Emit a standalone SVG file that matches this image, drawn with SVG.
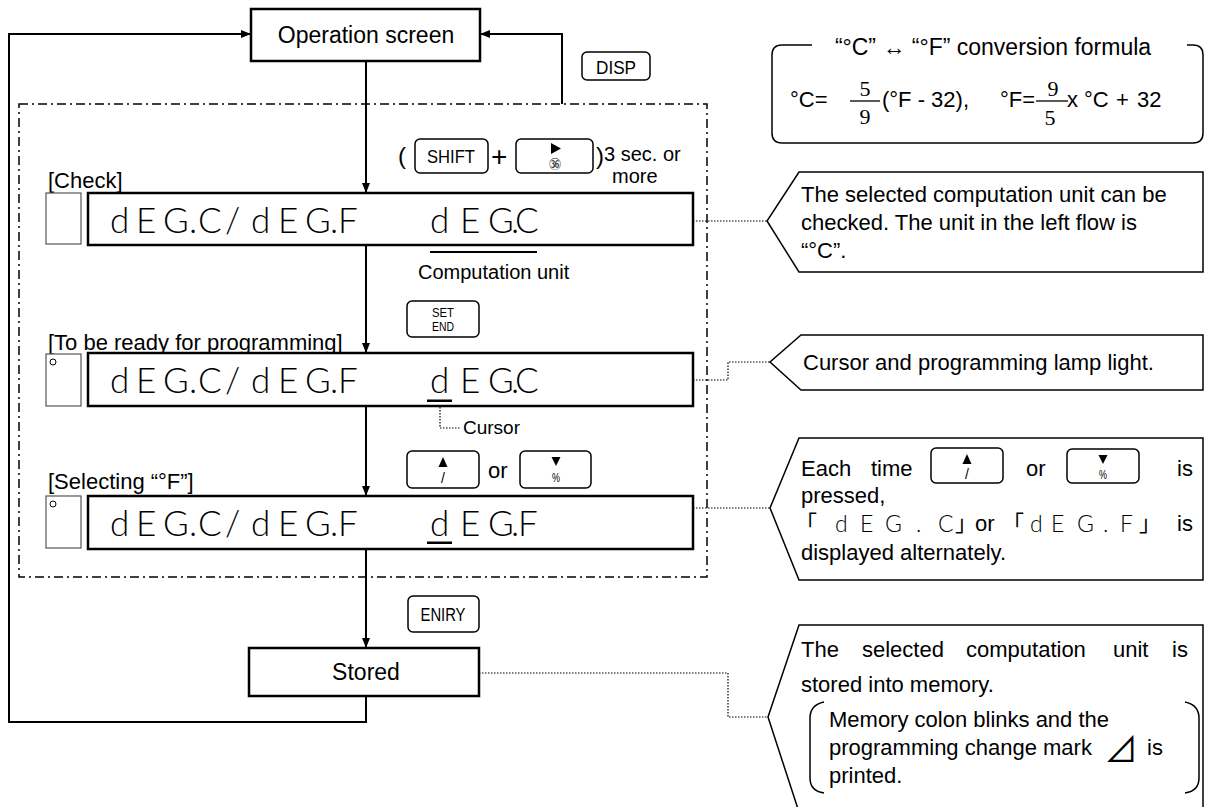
<svg xmlns="http://www.w3.org/2000/svg" width="1206" height="807" viewBox="0 0 1206 807">
<style>
.t{font-family:'Liberation Sans',Arial,sans-serif;font-size:22px;fill:#000}
.s20{font-size:20px}
.mid{text-anchor:middle}
.box{fill:#fff;stroke:#000;stroke-width:2.5}
.lamp{fill:#fff;stroke:#555;stroke-width:1.2}
.key{fill:#fff;stroke:#000;stroke-width:1.5}
.kt{font-family:'Liberation Sans',Arial,sans-serif;fill:#000;text-anchor:middle}
.seg{font-family:Lato,'DejaVu Sans',sans-serif;font-weight:300;font-size:35px;fill:#000}
.segs{font-family:Lato,'DejaVu Sans',sans-serif;font-weight:300;font-size:23px;fill:#000}
.line{fill:none;stroke:#000;stroke-width:2}
.dot{fill:none;stroke:#000;stroke-width:1.2;stroke-dasharray:1.5 1.5}
.dash{fill:none;stroke:#000;stroke-width:1.5;stroke-dasharray:9 4 2 4}
.call{fill:#fff;stroke:#000;stroke-width:1.5}
.cjk{font-family:'Noto Sans CJK JP',sans-serif;font-size:22px;fill:#000}
.serif{font-family:'Liberation Serif','Times New Roman',serif;font-size:22px;fill:#000;text-anchor:middle}
</style>
<defs>
<marker id="ah" viewBox="0 0 10 8" markerWidth="10" markerHeight="8" refX="10" refY="4" orient="auto" markerUnits="userSpaceOnUse"><path d="M0,0 L10,4 L0,8 z" fill="#000"/></marker>
</defs>

<rect class="dash" x="19" y="104" width="688" height="473"/>

<g id="connectors">
<path class="line" d="M366,61 V193" marker-end="url(#ah)"/>
<path class="line" d="M366,245 V353" marker-end="url(#ah)"/>
<path class="line" d="M366,406 V496" marker-end="url(#ah)"/>
<path class="line" d="M366,549 V648" marker-end="url(#ah)"/>
<path class="line" d="M366,696 V722 H9 V34 H251" marker-end="url(#ah)"/>
<path class="line" d="M562,104 V34 H480" marker-end="url(#ah)"/>
<path class="dot" d="M693,221 H767"/>
<path class="dot" d="M693,380 H728 V362 H770"/>
<path class="dot" d="M693,508 H770"/>
<path class="dot" d="M479,673 H728 V717 H768"/>
<path class="dot" d="M440,404 V428 H460"/>
</g>

<g id="op-screen">
<rect class="box" x="251" y="9" width="229" height="52"/>
<text class="t mid" x="366" y="43" style="font-size:23px">Operation screen</text>
</g>

<g id="key-disp">
<rect class="key" x="582" y="52" width="68" height="28" rx="5"/>
<text class="kt" x="616" y="74" font-size="18" textLength="40" lengthAdjust="spacingAndGlyphs">DISP</text>
</g>

<g id="check-row">
<text class="t" x="48" y="188">[Check]</text>
<text class="t" x="398" y="164" style="font-size:24px">(</text>
<rect class="key" x="415" y="139" width="73" height="34" rx="5"/>
<text class="kt" x="451" y="163" font-size="19" textLength="48" lengthAdjust="spacingAndGlyphs">SHIFT</text>
<text class="t" x="491" y="166" style="font-size:28px">+</text>
<rect class="key" x="516" y="139" width="77" height="34" rx="5"/>
<polygon points="551,143 561,148.5 551,154" fill="#000"/>
<text class="cjk mid" x="555" y="169" style="font-size:12px">㊱</text>
<text class="t" x="596" y="164" style="font-size:24px">)</text>
<text class="t s20" x="604" y="161">3 sec. or</text>
<text class="t s20" x="612" y="183">more</text>
<rect class="lamp" x="46" y="193" width="35" height="51"/>
<rect class="box" x="88" y="193" width="605" height="52"/>
<text class="seg" x="110 136 163 189 198 225 251 278 305 330 338" y="233">dEG.C/dEG.F</text>
<text class="seg" x="430 460 488 511 515" y="233">dEG.C</text>
<line x1="430" y1="252" x2="537" y2="252" stroke="#000" stroke-width="2"/>
<text class="t s20" x="418" y="279">Computation unit</text>
</g>

<g id="ready-row">
<rect class="key" x="407" y="301" width="72" height="36" rx="5"/>
<text class="kt" x="443" y="317" font-size="13" textLength="22" lengthAdjust="spacingAndGlyphs">SET</text>
<text class="kt" x="443" y="331" font-size="13" textLength="22" lengthAdjust="spacingAndGlyphs">END</text>
<text class="t" x="48" y="350">[To be ready for programming]</text>
<rect class="lamp" x="46" y="354" width="35" height="52"/>
<circle cx="53" cy="362" r="3" fill="none" stroke="#000" stroke-width="1"/>
<rect class="box" x="88" y="353" width="605" height="53"/>
<text class="seg" x="110 136 163 189 198 225 251 278 305 330 338" y="393">dEG.C/dEG.F</text>
<text class="seg" x="430 460 488 511 515" y="393">dEG.C</text>
<rect x="427" y="399.5" width="25" height="2.5" fill="#000"/>
<text class="t" x="463" y="434" style="font-size:19px">Cursor</text>
</g>

<g id="select-row">
<rect class="key" x="407" y="451" width="72" height="37" rx="5"/>
<polygon points="443,457 447.5,467 438.5,467" fill="#000"/>
<text class="kt" x="443" y="483" font-size="14">/</text>
<text class="t" x="488" y="478">or</text>
<rect class="key" x="520" y="451" width="71" height="37" rx="5"/>
<polygon points="551.5,457 560.5,457 556,466" fill="#000"/>
<text class="kt" x="556" y="482" font-size="12" textLength="8" lengthAdjust="spacingAndGlyphs">%</text>
<text class="t" x="48" y="489">[Selecting “°F”]</text>
<rect class="lamp" x="46" y="496" width="35" height="52"/>
<circle cx="53" cy="504" r="3" fill="none" stroke="#000" stroke-width="1"/>
<rect class="box" x="88" y="496" width="605" height="53"/>
<text class="seg" x="110 136 163 189 198 225 251 278 305 330 338" y="536">dEG.C/dEG.F</text>
<text class="seg" x="430 460 488 511 518" y="536">dEG.F</text>
<rect x="427" y="541.5" width="25" height="2.5" fill="#000"/>
</g>

<g id="key-entry">
<rect class="key" x="408" y="596" width="71" height="36" rx="5"/>
<text class="kt" x="443" y="621" font-size="19" textLength="45" lengthAdjust="spacingAndGlyphs">ENIRY</text>
</g>

<g id="stored">
<rect class="box" x="249" y="648" width="230" height="48"/>
<text class="t mid" x="366" y="680" style="font-size:23px">Stored</text>
</g>

<g id="formula">
<path d="M812,45 H782 Q772,45 772,55 V133 Q772,143 782,143 H1193 Q1203,143 1203,133 V55 Q1203,45 1193,45 H1187" fill="none" stroke="#000" stroke-width="1.5"/>
<text class="t mid" x="993" y="55" style="font-size:23px">“°C” ↔ “°F” conversion formula</text>
<text class="t" y="107"><tspan x="790">°C=</tspan><tspan x="882">(°F - 32),</tspan><tspan x="1000">°F=</tspan><tspan x="1067">x</tspan><tspan x="1084">°C</tspan><tspan x="1116">+</tspan><tspan x="1137">32</tspan></text>
<line x1="850" y1="101" x2="880" y2="101" stroke="#000" stroke-width="1.3"/>
<text class="serif" x="865" y="96">5</text>
<text class="serif" x="865" y="124">9</text>
<line x1="1036" y1="101" x2="1068" y2="101" stroke="#000" stroke-width="1.3"/>
<text class="serif" x="1053" y="96">9</text>
<text class="serif" x="1050" y="125">5</text>
</g>

<g id="callout-check">
<polygon class="call" points="799,172 1203,172 1203,272 799,272 767,221"/>
<text class="t" x="801" y="202">The selected computation unit can be</text>
<text class="t" x="801" y="230">checked. The unit in the left flow is</text>
<text class="t" x="801" y="258">“°C”.</text>
</g>

<g id="callout-cursor">
<polygon class="call" points="801,335 1203,335 1203,390 801,390 770,362"/>
<text class="t" x="803" y="370">Cursor and programming lamp light.</text>
</g>

<g id="callout-select">
<polygon class="call" points="799,438 1203,438 1203,580 799,580 770,508"/>
<text class="t" y="476"><tspan x="801">Each</tspan><tspan x="871">time</tspan><tspan x="1026">or</tspan><tspan x="1177">is</tspan></text>
<rect class="key" x="931" y="448" width="72" height="35" rx="5"/>
<polygon points="967,454 971.5,464 962.5,464" fill="#000"/>
<text class="kt" x="967" y="479" font-size="14">/</text>
<rect class="key" x="1067" y="449" width="72" height="34" rx="5"/>
<polygon points="1098.5,455 1107.5,455 1103,464" fill="#000"/>
<text class="kt" x="1103" y="479" font-size="12" textLength="8" lengthAdjust="spacingAndGlyphs">%</text>
<text class="t" x="801" y="503">pressed,</text>
<text class="cjk" x="795" y="531">「</text>
<text class="segs" x="835 860 885 916 938" y="532">dEG.C</text>
<text class="cjk" x="955" y="531">」</text>
<text class="t" x="975" y="531">or</text>
<text class="cjk" x="1002" y="531">「</text>
<text class="segs" x="1030 1051 1077 1103 1120" y="532">dEG.F</text>
<text class="cjk" x="1139" y="531">」</text>
<text class="t" x="1177" y="531">is</text>
<text class="t" x="801" y="560">displayed alternately.</text>
</g>

<g id="callout-stored">
<path class="call" d="M1203,807 V625 H799 L768,717 L798,809"/>
<text class="t" y="657"><tspan x="801">The</tspan><tspan x="862">selected</tspan><tspan x="966">computation</tspan><tspan x="1113">unit</tspan><tspan x="1172">is</tspan></text>
<text class="t" x="801" y="692">stored into memory.</text>
<path d="M824,702 Q810,705 810,718 V778 Q810,791 824,793" fill="none" stroke="#000" stroke-width="1.5"/>
<path d="M1185,702 Q1199,705 1199,718 V778 Q1199,791 1185,793" fill="none" stroke="#000" stroke-width="1.5"/>
<text class="t" x="829" y="727">Memory colon blinks and the</text>
<text class="t" x="829" y="755">programming change mark</text>
<text class="cjk" x="1104" y="762" style="font-size:34px">⊿</text>
<text class="t" x="1147" y="755">is</text>
<text class="t" x="829" y="783">printed.</text>
</g>
</svg>
